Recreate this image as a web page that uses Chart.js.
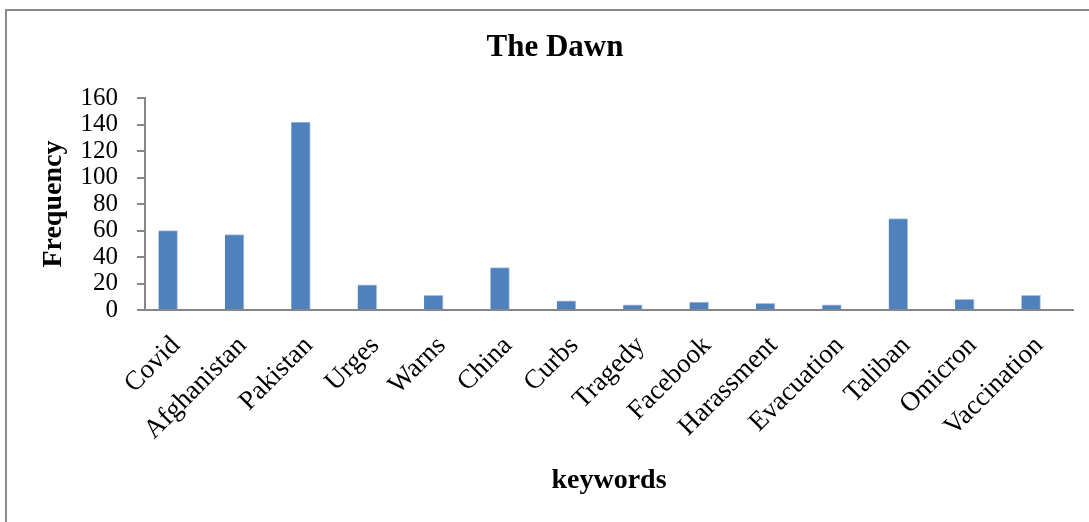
<!DOCTYPE html>
<html><head><meta charset="utf-8">
<script src="https://cdn.jsdelivr.net/npm/chart.js@4.4.1/dist/chart.umd.min.js"></script>
<style>html,body{margin:0;padding:0;background:#fff;overflow:hidden}#wrap{width:1089px;height:522px;position:relative;background:#fff}</style>
</head><body><div id="wrap"><canvas id="c" width="1089" height="522"></canvas></div>
<script>
const categories = ['Covid','Afghanistan','Pakistan','Urges','Warns','China','Curbs','Tragedy','Facebook','Harassment','Evacuation','Taliban','Omicron','Vaccination'];
const frequency = [60,57,142,19,11,32,7,4,6,5,4,69,8,11];
const yMin = 0, yMax = 160, yStep = 20;
const titleText = 'The Dawn';
const xTitle = 'keywords';
const yTitle = 'Frequency';

Chart.defaults.font.family = "'Liberation Serif', 'Times New Roman', serif";
Chart.defaults.color = '#000';

const frame = {
  id: 'frame',
  beforeDraw(chart) {
    const ctx = chart.ctx;
    ctx.save();
    ctx.fillStyle = '#fff';
    ctx.fillRect(0, 0, chart.width, chart.height);
    ctx.restore();
  },
  afterDraw(chart) {
    const ctx = chart.ctx;
    ctx.save();
    ctx.strokeStyle = '#8c8c8c';
    ctx.lineWidth = 2;
    ctx.strokeRect(6, 10, 1300, 800);
    ctx.restore();
  }
};

new Chart(document.getElementById('c').getContext('2d'), {
  type: 'bar',
  data: {
    datasets: [{
      data: categories.map((c, i) => ({x: i, y: frequency[i]})),
      backgroundColor: '#4f81bd',
      borderColor: '#a9c1df',
      borderWidth: {top: 1, left: 0, right: 1, bottom: 0},
      borderSkipped: 'start',
      barThickness: 19
    }]
  },
  options: {
    responsive: false,
    animation: false,
    devicePixelRatio: 1,
    layout: {padding: {left: 37, right: 16, top: 0, bottom: 0}},
    plugins: {
      legend: {display: false},
      tooltip: {enabled: false},
      title: {
        display: true, text: titleText, color: '#000',
        font: {size: 31, weight: 'bold'},
        padding: {top: 29, bottom: 32}
      }
    },
    scales: {
      x: {
        type: 'linear', min: -0.347, max: 13.633, offset: false,
        grid: {display: false, drawTicks: false, offset: false},
        border: {display: true, color: '#868686', width: 2},
        ticks: {
          stepSize: 1, includeBounds: false, autoSkip: false,
          maxRotation: 45, minRotation: 45, padding: 20, labelOffset: 8,
          font: {size: 27}, color: '#000',
          callback: (v) => Number.isInteger(v) ? categories[v] : ''
        },
        title: {
          display: true, text: xTitle, color: '#000',
          font: {size: 28, weight: 'bold'},
          padding: {top: 0, bottom: 24}
        },
        afterFit: (s) => { s.height = 212; }
      },
      y: {
        min: yMin, max: yMax,
        ticks: {stepSize: yStep, autoSkip: false, padding: 19, font: {size: 25}, color: '#000'},
        grid: {drawOnChartArea: false, drawTicks: true, tickLength: 8, color: '#868686', lineWidth: 2},
        border: {display: true, color: '#868686', width: 2},
        title: {
          display: true, text: yTitle, color: '#000',
          font: {size: 28, weight: 'bold'},
          padding: {top: 0, bottom: 0}
        },
        afterFit: (s) => { s.width = 108; }
      }
    }
  },
  plugins: [frame]
});
</script>
</body></html>
